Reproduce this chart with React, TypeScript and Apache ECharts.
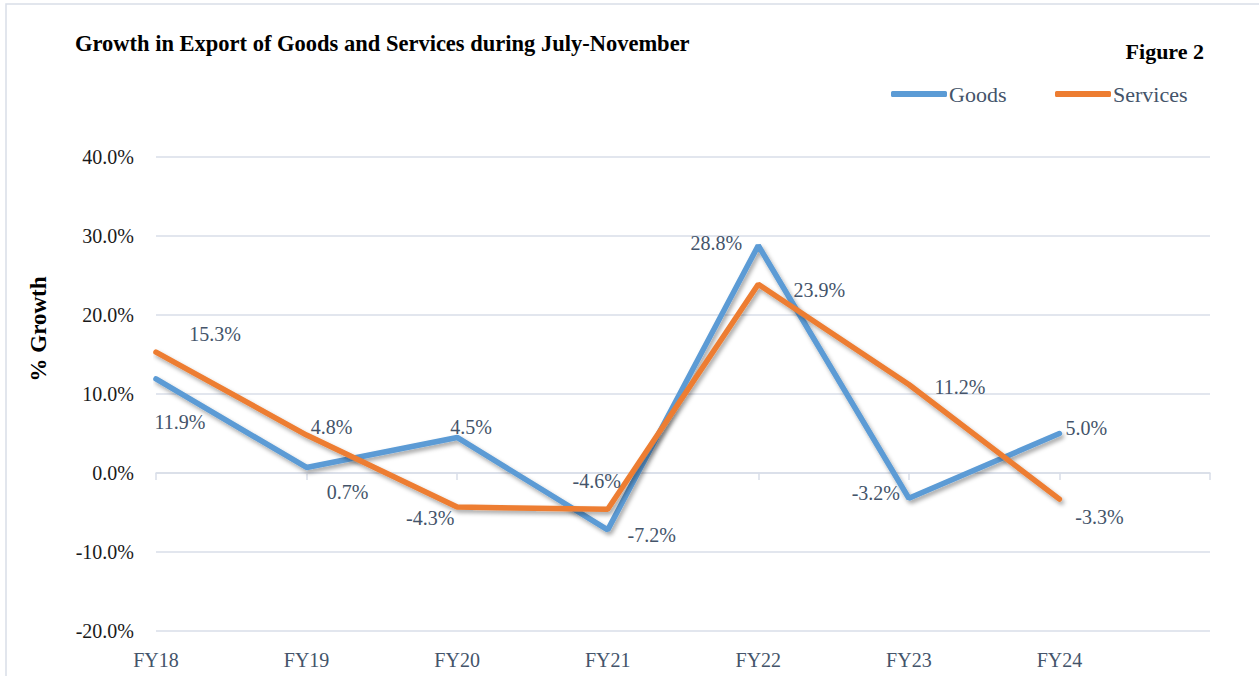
import React, { useEffect, useRef } from "react";
import * as echarts from "echarts";

const categories = ["FY18", "FY19", "FY20", "FY21", "FY22", "FY23", "FY24", ""];
const goods = [11.9, 0.7, 4.5, -7.2, 28.8, -3.2, 5.0];
const services = [15.3, 4.8, -4.3, -4.6, 23.9, 11.2, -3.3];
const goodsLabelOffsets = [[24, 43], [41, 25], [14, -10], [44, 5], [-42, -2], [-33, -5], [27, -6]];
const servicesLabelOffsets = [[59, -18], [25, -8], [-27, 11], [-11, -28], [61, 6], [51, 2], [40, 18]];
const yTicks = { min: -20, max: 40, interval: 10 };

const FONT = "'Liberation Serif', 'DejaVu Serif', serif";
const LABEL_COLOR = "#44546A";
const GRID_COLOR = "#D9DEE8";

function makeData(vals: number[], offs: number[][]) {
  return vals.map((v, i) => ({
    value: v,
    label: { offset: offs[i] },
  }));
}

export default function App() {
  const ref = useRef<HTMLDivElement>(null);
  useEffect(() => {
    document.body.style.margin = "0";
    const chart = echarts.init(ref.current!, null, { renderer: "svg" });
    const lineSeries = (name: string, vals: number[], offs: number[][], color: string) => ({
      name,
      type: "line",
      xAxisIndex: 0,
      data: makeData(vals, offs),
      symbol: "circle",
      symbolSize: 1,
      showSymbol: true,
      itemStyle: { color },
      lineStyle: {
        color,
        width: 5.5,
        cap: "round",
        shadowColor: "rgba(0,0,0,0.35)",
        shadowBlur: 4,
        shadowOffsetX: 2,
        shadowOffsetY: 3,
      },
      label: {
        show: true,
        position: "inside",
        formatter: (p: any) => `${Number(p.value).toFixed(1)}%`,
        color: LABEL_COLOR,
        fontFamily: FONT,
        fontSize: 20,
      },
      emphasis: { disabled: true },
    });
    const legendBase = {
      top: 78,
      itemWidth: 56,
      itemHeight: 6,
      icon: "roundRect",
      textStyle: { fontFamily: FONT, fontSize: 22, color: LABEL_COLOR, padding: [0, 0, 0, -3] },
    };
    chart.setOption({
      animation: false,
      backgroundColor: "#fff",
      grid: { left: 156, right: 49, top: 157, bottom: 45 },
      legend: [
        { ...legendBase, left: 886, data: ["Goods"] },
        { ...legendBase, left: 1050, data: ["Services"] },
      ],
      xAxis: [
        {
          type: "category",
          data: categories,
          boundaryGap: false,
          position: "bottom",
          axisLine: { show: true, onZero: true, lineStyle: { color: GRID_COLOR, width: 1.5 } },
          axisTick: { show: true, interval: 0, length: 7, lineStyle: { color: GRID_COLOR, width: 1.5 } },
          axisLabel: { show: false },
          splitLine: { show: false },
        },
        {
          type: "category",
          data: categories,
          boundaryGap: false,
          position: "bottom",
          axisLine: { show: false, onZero: false },
          axisTick: { show: false },
          axisLabel: {
            show: true,
            interval: 0,
            margin: 19,
            color: LABEL_COLOR,
            fontFamily: FONT,
            fontSize: 20,
          },
          splitLine: { show: false },
        },
      ],
      yAxis: {
        type: "value",
        min: yTicks.min,
        max: yTicks.max,
        interval: yTicks.interval,
        axisLine: { show: false },
        axisTick: { show: false },
        axisLabel: {
          margin: 22,
          color: "#1a1a1a",
          fontFamily: FONT,
          fontSize: 20,
          formatter: (v: number) => `${v.toFixed(1)}%`,
        },
        splitLine: { lineStyle: { color: GRID_COLOR, width: 1.5 } },
      },
      graphic: [
        {
          type: "rect",
          shape: { x: 6, y: 4, width: 1400, height: 800 },
          style: { fill: "none", stroke: GRID_COLOR, lineWidth: 1.5 },
          silent: true,
        },
        {
          type: "text",
          x: 75,
          y: 43,
          style: {
            text: "Growth in Export of Goods and Services during July-November",
            fontFamily: FONT,
            fontWeight: "bold",
            fontSize: 22.5,
            fill: "#000",
            textVerticalAlign: "middle",
          },
        },
        {
          type: "text",
          x: 1204,
          y: 51,
          style: {
            text: "Figure 2",
            fontFamily: FONT,
            fontWeight: "bold",
            fontSize: 22,
            fill: "#000",
            textAlign: "right",
            textVerticalAlign: "middle",
          },
        },
        {
          type: "text",
          x: 38,
          y: 329,
          rotation: Math.PI / 2,
          style: {
            text: "% Growth",
            fontFamily: FONT,
            fontWeight: "bold",
            fontSize: 23,
            fill: "#000",
            textAlign: "center",
            textVerticalAlign: "middle",
          },
        },
      ],
      series: [
        lineSeries("Goods", goods, goodsLabelOffsets, "#5B9BD5"),
        lineSeries("Services", services, servicesLabelOffsets, "#ED7D31"),
      ],
    });
    return () => chart.dispose();
  }, []);
  return <div ref={ref} style={{ width: 1259, height: 676 }} />;
}
